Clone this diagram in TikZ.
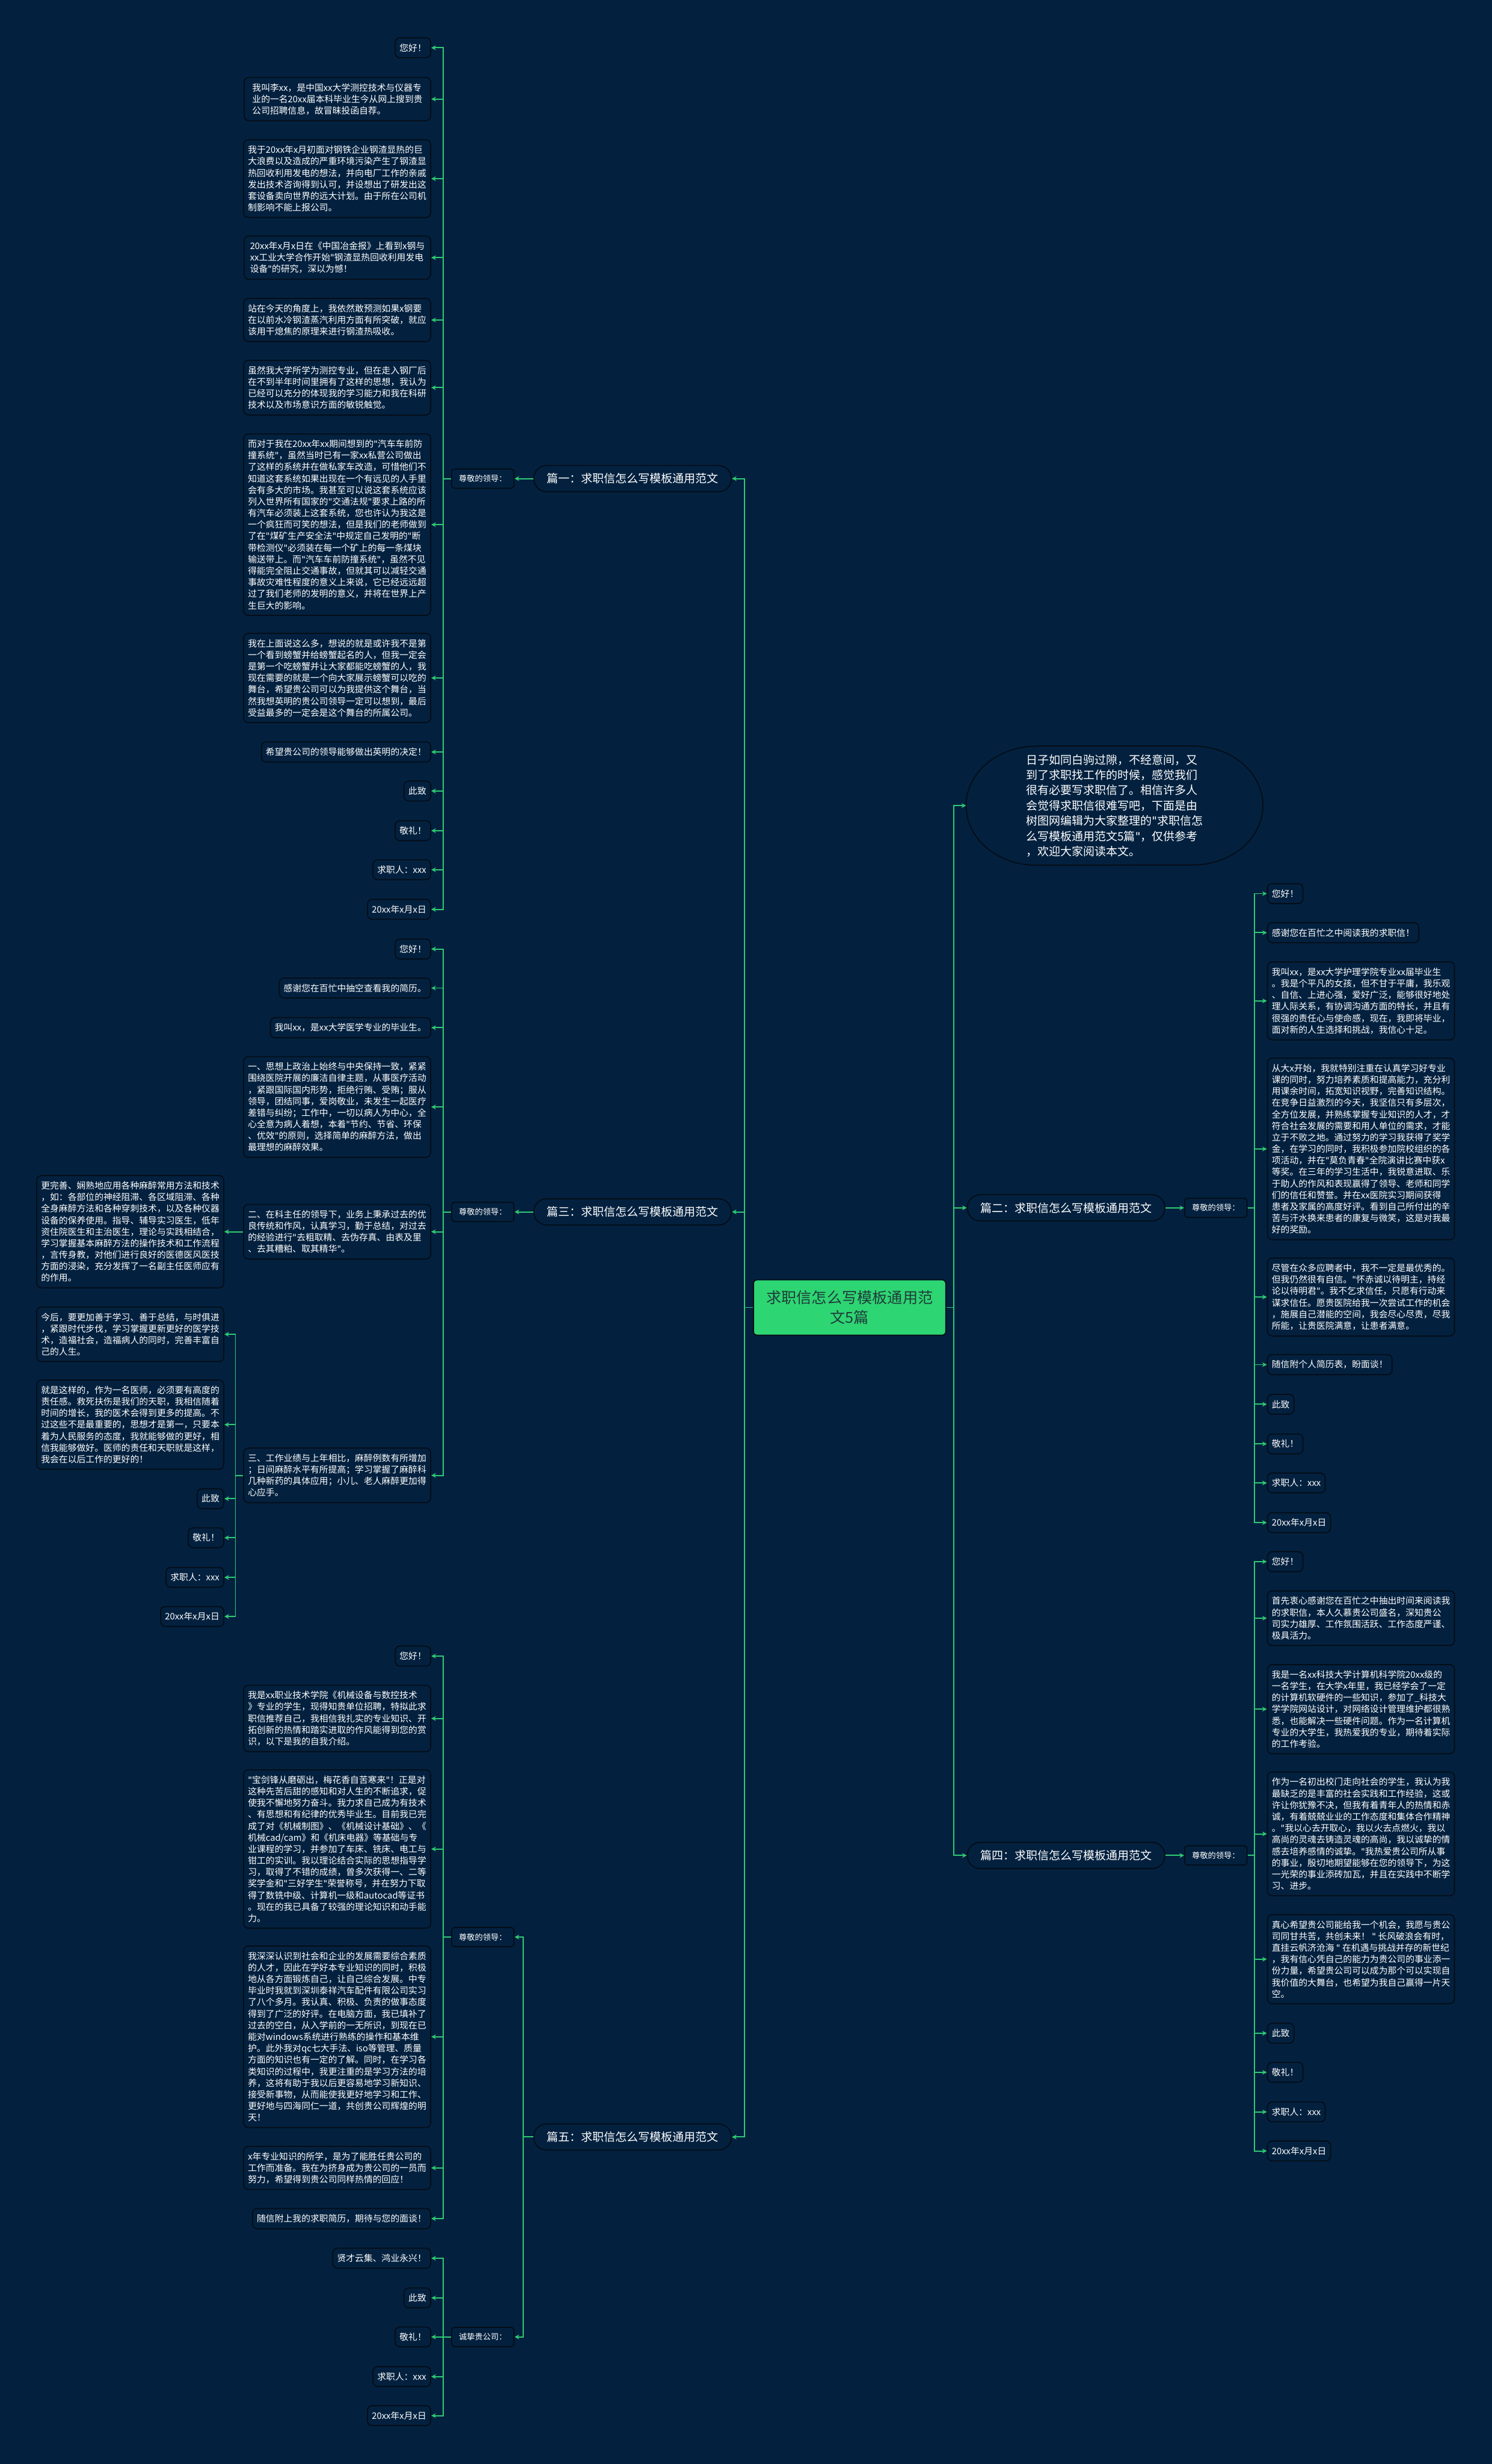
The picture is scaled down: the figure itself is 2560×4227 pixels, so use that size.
\documentclass[tikz,border=0pt]{standalone}
\usepackage{fontspec}
\setmainfont{Noto Sans CJK SC}
\newfontfamily\qfont{DejaVu Sans}
\newcommand{\q}{{\qfont"}}
\usetikzlibrary{arrows.meta}
\definecolor{bg}{HTML}{03213F}
\definecolor{ln}{HTML}{2FCB73}
\definecolor{bd}{HTML}{040E19}
\definecolor{ctrfill}{HTML}{2ED573}
\definecolor{ctrtext}{HTML}{1F3D3A}
\begin{document}
\begin{tikzpicture}[x=1pt,y=-1pt,
  every node/.style={text=white, inner sep=0pt},
  leaf/.style={draw=bd, line width=2pt, fill=bg, rounded corners=8pt, inner xsep=7.5pt, inner ysep=10pt, align=left, font=\fontsize{15.3}{19.8}\selectfont},
  wide/.style={leaf, minimum width=320pt},
  lhs/.style={anchor=east}, rhs/.style={anchor=west},
  lead/.style={draw=bd, line width=2pt, fill=bg, rounded corners=5pt, minimum width=107pt, minimum height=33pt, font=\fontsize{13.7}{16}\selectfont},
  chap/.style={draw=bd, line width=2pt, fill=bg, rounded corners=22pt, minimum width=339pt, minimum height=45pt, font=\fontsize{19.6}{24}\selectfont},
  arr/.style={draw=ln, line width=2pt, -{Stealth[length=8pt,width=8pt]}},
]
\fill[bg] (0,0) rectangle (2560,4227);
\useasboundingbox (0,0) rectangle (2560,4227);

% centre
\node[draw=bd, line width=2pt, fill=ctrfill, rounded corners=6pt, minimum width=330pt, minimum height=95pt, align=center, text=ctrtext, font=\fontsize{26}{33.5}\selectfont] (ctr) at (1458,2243) {求职信怎么写模板通用范\\文5篇};

% intro
\node[font=\fontsize{19.6}{26.2}\selectfont, align=left, minimum width=509pt, minimum height=204pt] (intro) at (1912.5,1382) {日子如同白驹过隙，不经意间，又\\到了求职找工作的时候，感觉我们\\很有必要写求职信了。相信许多人\\会觉得求职信很难写吧，下面是由\\树图网编辑为大家整理的\q 求职信怎\\么写模板通用范文5篇\q，仅供参考\\，欢迎大家阅读本文。};
\draw[bd, line width=2pt] ([xshift=120pt]intro.north west) -- ([xshift=-120pt]intro.north east) arc[start angle=90,end angle=-90,x radius=120pt,y radius=102pt] -- ([xshift=120pt]intro.south west) arc[start angle=270,end angle=90,x radius=120pt,y radius=102pt] -- cycle;

% chapters
\node[chap,lhs] (p1) at (1256,821) {篇一：求职信怎么写模板通用范文};
\node[chap,lhs] (p3) at (1256,2079) {篇三：求职信怎么写模板通用范文};
\node[chap,lhs] (p5) at (1256,3666) {篇五：求职信怎么写模板通用范文};
\node[chap,rhs] (p2) at (1659,2072) {篇二：求职信怎么写模板通用范文};
\node[chap,rhs] (p4) at (1659,3183) {篇四：求职信怎么写模板通用范文};

\node[lead,lhs] (z1) at (883,821) {尊敬的领导：};
\node[lead,lhs] (z3) at (883,2079) {尊敬的领导：};
\node[lead,lhs] (z5) at (883,3323) {尊敬的领导：};
\node[lead,lhs] (c5) at (883,4009) {诚挚贵公司：};
\node[lead,rhs] (z2) at (2032,2072) {尊敬的领导：};
\node[lead,rhs] (z4) at (2032,3183) {尊敬的领导：};

% ---------- 篇一 leaves
\node[leaf,lhs] (a1) at (740,82) {您好！};
\node[wide,lhs] (a2) at (740,170) {我叫李xx，是中国xx大学测控技术与仪器专\\业的一名20xx届本科毕业生今从网上搜到贵\\公司招聘信息，故冒昧投函自荐。};
\node[wide,lhs] (a3) at (740,306.5) {我于20xx年x月初面对钢铁企业钢渣显热的巨\\大浪费以及造成的严重环境污染产生了钢渣显\\热回收利用发电的想法，并向电厂工作的亲戚\\发出技术咨询得到认可，并设想出了研发出这\\套设备卖向世界的远大计划。由于所在公司机\\制影响不能上报公司。};
\node[wide,lhs] (a4) at (740,442) {20xx年x月x日在《中国冶金报》上看到x钢与\\xx工业大学合作开始\q 钢渣显热回收利用发电\\设备\q 的研究，深以为憾！};
\node[wide,lhs] (a5) at (740,549) {站在今天的角度上，我依然敢预测如果x钢要\\在以前水冷钢渣蒸汽利用方面有所突破，就应\\该用干熄焦的原理来进行钢渣热吸收。};
\node[wide,lhs] (a6) at (740,665) {虽然我大学所学为测控专业，但在走入钢厂后\\在不到半年时间里拥有了这样的思想，我认为\\已经可以充分的体现我的学习能力和我在科研\\技术以及市场意识方面的敏锐触觉。};
\node[wide,lhs] (a7) at (740,900) {而对于我在20xx年xx期间想到的\q 汽车车前防\\撞系统\q，虽然当时已有一家xx私营公司做出\\了这样的系统并在做私家车改造，可惜他们不\\知道这套系统如果出现在一个有远见的人手里\\会有多大的市场。我甚至可以说这套系统应该\\列入世界所有国家的\q 交通法规\q 要求上路的所\\有汽车必须装上这套系统，您也许认为我这是\\一个疯狂而可笑的想法，但是我们的老师做到\\了在\q 煤矿生产安全法\q 中规定自己发明的\q 断\\带检测仪\q 必须装在每一个矿上的每一条煤块\\输送带上。而\q 汽车车前防撞系统\q，虽然不见\\得能完全阻止交通事故，但就其可以减轻交通\\事故灾难性程度的意义上来说，它已经远远超\\过了我们老师的发明的意义，并将在世界上产\\生巨大的影响。};
\node[wide,lhs] (a8) at (740,1163) {我在上面说这么多，想说的就是或许我不是第\\一个看到螃蟹并给螃蟹起名的人，但我一定会\\是第一个吃螃蟹并让大家都能吃螃蟹的人，我\\现在需要的就是一个向大家展示螃蟹可以吃的\\舞台，希望贵公司可以为我提供这个舞台，当\\然我想英明的贵公司领导一定可以想到，最后\\受益最多的一定会是这个舞台的所属公司。};
\node[leaf,lhs] (a9) at (740,1290) {希望贵公司的领导能够做出英明的决定！};
\node[leaf,lhs] (a10) at (740,1357) {此致};
\node[leaf,lhs] (a11) at (740,1425) {敬礼！};
\node[leaf,lhs] (a12) at (740,1492) {求职人：xxx};
\node[leaf,lhs] (a13) at (740,1560) {20xx年x月x日};

% ---------- 篇三 leaves
\node[leaf,lhs] (t1) at (740,1628) {您好！};
\node[leaf,lhs] (t2) at (740,1695) {感谢您在百忙中抽空查看我的简历。};
\node[leaf,lhs] (t3) at (740,1763) {我叫xx，是xx大学医学专业的毕业生。};
\node[wide,lhs] (t4) at (740,1899) {一、思想上政治上始终与中央保持一致，紧紧\\围绕医院开展的廉洁自律主题，从事医疗活动\\，紧跟国际国内形势，拒绝行贿、受贿；服从\\领导，团结同事，爱岗敬业，未发生一起医疗\\差错与纠纷；工作中，一切以病人为中心，全\\心全意为病人着想，本着\q 节约、节省、环保\\、优效\q 的原则，选择简单的麻醉方法，做出\\最理想的麻醉效果。};
\node[wide,lhs] (t5) at (740,2113) {二、在科主任的领导下，业务上秉承过去的优\\良传统和作风，认真学习，勤于总结，对过去\\的经验进行\q 去粗取精、去伪存真、由表及里\\、去其糟粕、取其精华\q。};
\node[wide,lhs] (t6) at (740,2531) {三、工作业绩与上年相比，麻醉例数有所增加\\；日间麻醉水平有所提高；学习掌握了麻醉科\\几种新药的具体应用；小儿、老人麻醉更加得\\心应手。};
\node[wide,lhs] (u1) at (385,2113) {更完善、娴熟地应用各种麻醉常用方法和技术\\，如：各部位的神经阻滞、各区域阻滞、各种\\全身麻醉方法和各种穿刺技术，以及各种仪器\\设备的保养使用。指导、辅导实习医生，低年\\资住院医生和主治医生，理论与实践相结合，\\学习掌握基本麻醉方法的操作技术和工作流程\\，言传身教，对他们进行良好的医德医风医技\\方面的浸染，充分发挥了一名副主任医师应有\\的作用。};
\node[wide,lhs] (v1) at (385,2289) {今后，要更加善于学习、善于总结，与时俱进\\，紧跟时代步伐，学习掌握更新更好的医学技\\术，造福社会，造福病人的同时，完善丰富自\\己的人生。};
\node[wide,lhs] (v2) at (385,2444) {就是这样的，作为一名医师，必须要有高度的\\责任感。救死扶伤是我们的天职，我相信随着\\时间的增长，我的医术会得到更多的提高。不\\过这些不是最重要的，思想才是第一，只要本\\着为人民服务的态度，我就能够做的更好，相\\信我能够做好。医师的责任和天职就是这样，\\我会在以后工作的更好的！};
\node[leaf,lhs] (v3) at (385,2571) {此致};
\node[leaf,lhs] (v4) at (385,2638) {敬礼！};
\node[leaf,lhs] (v5) at (385,2706) {求职人：xxx};
\node[leaf,lhs] (v6) at (385,2773) {20xx年x月x日};

% ---------- 篇五 leaves
\node[leaf,lhs] (w1) at (740,2841) {您好！};
\node[wide,lhs] (w2) at (740,2948) {我是xx职业技术学院《机械设备与数控技术\\》专业的学生，现得知贵单位招聘，特拟此求\\职信推荐自己，我相信我扎实的专业知识、开\\拓创新的热情和踏实进取的作风能得到您的赏\\识，以下是我的自我介绍。};
\node[wide,lhs] (w3) at (740,3172) {\q 宝剑锋从磨砺出，梅花香自苦寒来\q！正是对\\这种先苦后甜的感知和对人生的不断追求，促\\使我不懈地努力奋斗。我力求自己成为有技术\\、有思想和有纪律的优秀毕业生。目前我已完\\成了对《机械制图》、《机械设计基础》、《\\机械cad/cam》和《机床电器》等基础与专\\业课程的学习，并参加了车床、铣床、电工与\\钳工的实训。我以理论结合实际的思想指导学\\习，取得了不错的成绩，曾多次获得一、二等\\奖学金和\q 三好学生\q 荣誉称号，并在努力下取\\得了数铣中级、计算机一级和autocad等证书\\。现在的我已具备了较强的理论知识和动手能\\力。};
\node[wide,lhs] (w4) at (740,3494) {我深深认识到社会和企业的发展需要综合素质\\的人才，因此在学好本专业知识的同时，积极\\地从各方面锻炼自己，让自己综合发展。中专\\毕业时我就到深圳泰祥汽车配件有限公司实习\\了八个多月。我认真、积极、负责的做事态度\\得到了广泛的好评。在电脑方面，我已填补了\\过去的空白，从入学前的一无所识，到现在已\\能对windows系统进行熟练的操作和基本维\\护。此外我对qc七大手法、iso等管理、质量\\方面的知识也有一定的了解。同时，在学习各\\类知识的过程中，我更注重的是学习方法的培\\养，这将有助于我以后更容易地学习新知识、\\接受新事物，从而能使我更好地学习和工作、\\更好地与四海同仁一道，共创贵公司辉煌的明\\天！};
\node[wide,lhs] (w5) at (740,3719) {x年专业知识的所学，是为了能胜任贵公司的\\工作而准备。我在为挤身成为贵公司的一员而\\努力，希望得到贵公司同样热情的回应！};
\node[leaf,lhs] (w6) at (740,3806) {随信附上我的求职简历，期待与您的面谈！};
\node[leaf,lhs] (x1) at (740,3874) {贤才云集、鸿业永兴！};
\node[leaf,lhs] (x2) at (740,3942) {此致};
\node[leaf,lhs] (x3) at (740,4009) {敬礼！};
\node[leaf,lhs] (x4) at (740,4077) {求职人：xxx};
\node[leaf,lhs] (x5) at (740,4144) {20xx年x月x日};

% ---------- 篇二 leaves
\node[leaf,rhs] (b1) at (2174,1533) {您好！};
\node[leaf,rhs] (b2) at (2174,1600) {感谢您在百忙之中阅读我的求职信！};
\node[wide,rhs] (b3) at (2174,1717) {我叫xx，是xx大学护理学院专业xx届毕业生\\。我是个平凡的女孩，但不甘于平庸，我乐观\\、自信、上进心强，爱好广泛，能够很好地处\\理人际关系，有协调沟通方面的特长，并且有\\很强的责任心与使命感，现在，我即将毕业，\\面对新的人生选择和挑战，我信心十足。};
\node[wide,rhs] (b4) at (2174,1971) {从大x开始，我就特别注重在认真学习好专业\\课的同时，努力培养素质和提高能力，充分利\\用课余时间，拓宽知识视野，完善知识结构。\\在竞争日益激烈的今天，我坚信只有多层次，\\全方位发展，并熟练掌握专业知识的人才，才\\符合社会发展的需要和用人单位的需求，才能\\立于不败之地。通过努力的学习我获得了奖学\\金，在学习的同时，我积极参加院校组织的各\\项活动，并在\q 莫负青春\q 全院演讲比赛中获x\\等奖。在三年的学习生活中，我锐意进取、乐\\于助人的作风和表现赢得了领导、老师和同学\\们的信任和赞誉。并在xx医院实习期间获得\\患者及家属的高度好评。看到自己所付出的辛\\苦与汗水换来患者的康复与微笑，这是对我最\\好的奖励。};
\node[wide,rhs] (b5) at (2174,2225) {尽管在众多应聘者中，我不一定是最优秀的。\\但我仍然很有自信。\q 怀赤诚以待明主，持经\\论以待明君\q。我不乞求信任，只愿有行动来\\谋求信任。愿贵医院给我一次尝试工作的机会\\，施展自己潜能的空间，我会尽心尽责，尽我\\所能，让贵医院满意，让患者满意。};
\node[leaf,rhs] (b6) at (2174,2341) {随信附个人简历表，盼面谈！};
\node[leaf,rhs] (b7) at (2174,2409) {此致};
\node[leaf,rhs] (b8) at (2174,2477) {敬礼！};
\node[leaf,rhs] (b9) at (2174,2544) {求职人：xxx};
\node[leaf,rhs] (b10) at (2174,2612) {20xx年x月x日};

% ---------- 篇四 leaves
\node[leaf,rhs] (d1) at (2174,2679) {您好！};
\node[wide,rhs] (d2) at (2174,2776) {首先衷心感谢您在百忙之中抽出时间来阅读我\\的求职信，本人久慕贵公司盛名，深知贵公\\司实力雄厚、工作氛围活跃、工作态度严谨、\\极具活力。};
\node[wide,rhs] (d3) at (2174,2932) {我是一名xx科技大学计算机科学院20xx级的\\一名学生，在大学x年里，我已经学会了一定\\的计算机软硬件的一些知识，参加了\_科技大\\学学院网站设计，对网络设计管理维护都很熟\\悉，也能解决一些硬件问题。作为一名计算机\\专业的大学生，我热爱我的专业，期待着实际\\的工作考验。};
\node[wide,rhs] (d4) at (2174,3146) {作为一名初出校门走向社会的学生，我认为我\\最缺乏的是丰富的社会实践和工作经验，这或\\许让你犹豫不决，但我有着青年人的热情和赤\\诚，有着兢兢业业的工作态度和集体合作精神\\。\q 我以心去开取心，我以火去点燃火，我以\\高尚的灵魂去铸造灵魂的高尚，我以诚挚的情\\感去培养感情的诚挚。\q 我热爱贵公司所从事\\的事业，殷切地期望能够在您的领导下，为这\\一光荣的事业添砖加瓦，并且在实践中不断学\\习、进步。};
\node[wide,rhs] (d5) at (2174,3361) {真心希望贵公司能给我一个机会，我愿与贵公\\司同甘共苦，共创未来！ \q\ 长风破浪会有时，\\直挂云帆济沧海 \q\ 在机遇与挑战并存的新世纪\\，我有信心凭自己的能力为贵公司的事业添一\\份力量，希望贵公司可以成为那个可以实现自\\我价值的大舞台，也希望为我自己赢得一片天\\空。};
\node[leaf,rhs] (d6) at (2174,3488) {此致};
\node[leaf,rhs] (d7) at (2174,3555) {敬礼！};
\node[leaf,rhs] (d8) at (2174,3623) {求职人：xxx};
\node[leaf,rhs] (d9) at (2174,3690) {20xx年x月x日};

% ---------- connectors
\foreach \n in {intro,p2,p4} \draw[arr] (ctr.east) -- ++(13,0) |- (\n.west);
\foreach \n in {p1,p3,p5} \draw[arr] (ctr.west) -- ++(-14,0) |- (\n.east);
\draw[arr] (p1.west) -- (z1.east);
\draw[arr] (p3.west) -- (z3.east);
\draw[arr] (p5.west) -- ++(-17,0) |- (z5.east);
\draw[arr] (p5.west) -- ++(-17,0) |- (c5.east);
\draw[arr] (p2.east) -- (z2.west);
\draw[arr] (p4.east) -- (z4.west);
\foreach \n in {a1,a2,a3,a4,a5,a6,a7,a8,a9,a10,a11,a12,a13} \draw[arr] (z1.west) -- ++(-13,0) |- (\n.east);
\foreach \n in {t1,t2,t3,t4,t5,t6} \draw[arr] (z3.west) -- ++(-13,0) |- (\n.east);
\draw[arr] (t5.west) -- (u1.east);
\foreach \n in {v1,v2,v3,v4,v5,v6} \draw[arr] (t6.west) -- ++(-13,0) |- (\n.east);
\foreach \n in {w1,w2,w3,w4,w5,w6} \draw[arr] (z5.west) -- ++(-13,0) |- (\n.east);
\foreach \n in {x1,x2,x3,x4,x5} \draw[arr] (c5.west) -- ++(-13,0) |- (\n.east);
\foreach \n in {b1,b2,b3,b4,b5,b6,b7,b8,b9,b10} \draw[arr] (z2.east) -- ++(12,0) |- (\n.west);
\foreach \n in {d1,d2,d3,d4,d5,d6,d7,d8,d9} \draw[arr] (z4.east) -- ++(12,0) |- (\n.west);
\end{tikzpicture}
\end{document}
